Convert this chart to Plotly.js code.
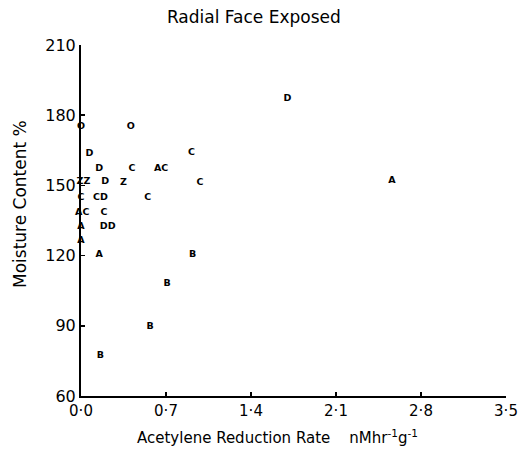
<!DOCTYPE html>
<html>
<head>
<meta charset="utf-8">
<script src="https://cdn.plot.ly/plotly-3.0.1.min.js"></script>
<style>html,body{margin:0;padding:0;background:#fff;}#chart{width:531px;height:457px;}</style>
</head>
<body>
<div id="chart"></div>
<script>
// Acetylene reduction rate (x) vs moisture content (y), letter-coded points
const rate     = [0.00, 0.41, 0.07, 0.91, 0.15, 0.42, 0.66, 0.02, 0.20, 0.35, 0.98, 0.00, 0.16, 0.55, 0.01, 0.19, 0.00, 0.22, 0.00, 0.15, 0.92, 0.71, 0.57, 0.16, 1.70, 2.56];
const moisture = [175.2, 175.0, 163.4, 163.8, 157.0, 157.0, 157.0, 151.5, 151.5, 151.0, 151.0, 144.8, 144.8, 144.6, 138.4, 138.2, 132.4, 132.4, 126.2, 120.3, 120.3, 108.2, 89.6, 77.2, 186.9, 151.9];
const labels   = ["O", "O", "D", "C", "D", "C", "AC", "ZZ", "D", "Z", "C", "C", "CD", "C", "AC", "C", "A", "DD", "A", "A", "B", "B", "B", "B", "D", "A"];

const xTickVals = [0, 0.7, 1.4, 2.1, 2.8, 3.5];
const xTickText = ["0·0", "0·7", "1·4", "2·1", "2·8", "3·5"];
const yTickVals = [60, 90, 120, 150, 180, 210];
const yTickText = ["60", "90", "120", "150", "180", "210"];

const FONT = "DejaVu Sans, sans-serif";

const trace = {
  x: rate,
  y: moisture,
  text: labels,
  mode: "text",
  type: "scatter",
  textposition: "middle center",
  textfont: {family: FONT, size: 9.5, color: "#000", weight: "bold"},
  hoverinfo: "x+y+text",
  cliponaxis: false
};

const layout = {
  width: 531,
  height: 457,
  margin: {l: 81, r: 25, t: 45, b: 61},
  paper_bgcolor: "#fff",
  plot_bgcolor: "#fff",
  showlegend: false,
  font: {family: FONT, color: "#000"},
  title: {
    text: "Radial Face Exposed",
    font: {family: FONT, size: 17, color: "#000"},
    xref: "container", yref: "container",
    x: 0.478, y: 0.963, xanchor: "center", yanchor: "middle"
  },
  xaxis: {
    range: [0, 3.5],
    tickvals: xTickVals,
    ticktext: xTickText,
    ticks: "inside",
    ticklen: 4,
    tickwidth: 1.5,
    tickcolor: "#000",
    showline: true,
    linecolor: "#000",
    linewidth: 2,
    showgrid: false,
    zeroline: false,
    tickfont: {family: FONT, size: 15, color: "#000"},
    automargin: false
  },
  yaxis: {
    range: [60, 210],
    tickvals: yTickVals,
    ticktext: yTickText,
    ticks: "inside",
    ticklen: 4,
    tickwidth: 1.5,
    tickcolor: "#000",
    showline: true,
    linecolor: "#000",
    linewidth: 2,
    showgrid: false,
    zeroline: false,
    tickfont: {family: FONT, size: 16, color: "#000"},
    automargin: false
  },
  annotations: [
    {
      text: "Acetylene Reduction Rate    nMhr<sup>-1</sup>g<sup>-1</sup>",
      xref: "paper", yref: "paper",
      x: 0.4635, y: -0.117, xanchor: "center", yanchor: "middle",
      showarrow: false,
      font: {family: FONT, size: 15, color: "#000"}
    },
    {
      text: "Moisture Content %",
      xref: "paper", yref: "paper",
      x: -0.1435, y: 0.547, xanchor: "center", yanchor: "middle",
      textangle: -90,
      showarrow: false,
      font: {family: FONT, size: 17, color: "#000"}
    }
  ]
};

Plotly.newPlot("chart", [trace], layout, {displayModeBar: false, staticPlot: true});
</script>
</body>
</html>
